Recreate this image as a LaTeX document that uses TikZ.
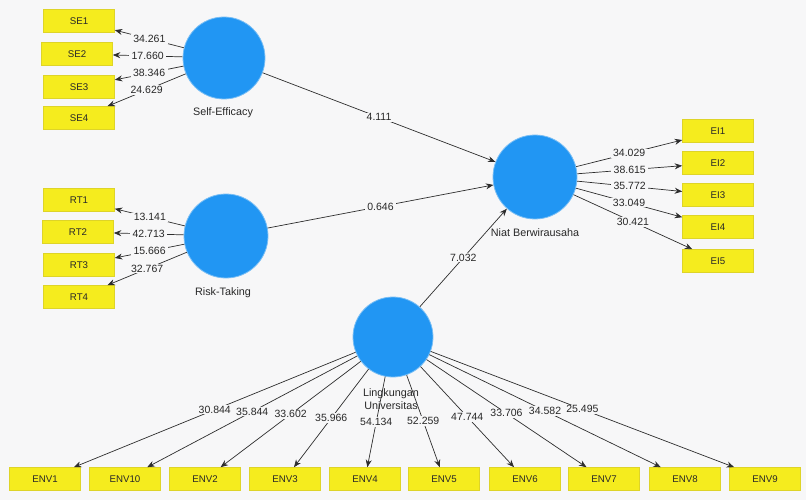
\documentclass[tikz,border=0pt]{standalone}
\usepackage{fontspec}
\setmainfont{Liberation Sans}
\usetikzlibrary{arrows.meta}
\definecolor{bgcol}{RGB}{247,247,248}
\definecolor{latentfill}{RGB}{33,150,243}
\definecolor{latentedge}{RGB}{120,190,245}
\definecolor{itemfill}{RGB}{245,236,30}
\definecolor{itemedge}{RGB}{222,212,40}
\definecolor{linkcol}{RGB}{45,45,45}
\definecolor{txtcol}{RGB}{40,40,40}
\tikzset{
  latent/.style={circle, fill=latentfill, draw=latentedge, line width=0.8pt, minimum size=#1, inner sep=0pt},
  latent/.default=82pt,
  item/.style={rectangle, fill=itemfill, draw=itemedge, line width=0.6pt, minimum width=71pt, minimum height=23pt, inner sep=0pt, font=\fontsize{9.7}{11}\selectfont, text=txtcol},
  cname/.style={font=\fontsize{10.8}{12.5}\selectfont, text=txtcol, align=center},
  link/.style={draw=linkcol, line width=0.7pt, -{Stealth[length=7.5pt,width=6pt]}},
  coef/.style={fill=bgcol, inner xsep=2.5pt, inner ysep=1pt, font=\fontsize{10.5}{12}\selectfont, text=txtcol},
}
\begin{document}
\begin{tikzpicture}[x=1pt, y=-1pt]
  % canvas
  \fill[bgcol] (0,0) rectangle (806,500);
  \useasboundingbox (0,0) rectangle (806,500);

  % latent variables
  \node[latent] (se) at (224,58) {};
  \node[latent=84pt] (rt) at (226,236) {};
  \node[latent=84pt] (nb) at (535,177) {};
  \node[latent=80pt] (lu) at (393,337) {};

  \node[cname] (seL) at (223,113) {Self-Efficacy};
  \node[cname] (rtL) at (223,293) {Risk-Taking};
  \node[cname] (nbL) at (535,233) {Niat Berwirausaha};
  \node[cname] (luL) at (391,399) {Lingkungan\\Universitas};

  % indicators
  \node[item] (se1) at (79,21)  {SE1};
  \node[item] (se2) at (77,54)  {SE2};
  \node[item] (se3) at (79,87)  {SE3};
  \node[item] (se4) at (79,118) {SE4};

  \node[item] (rt1) at (79,200) {RT1};
  \node[item] (rt2) at (78,232) {RT2};
  \node[item] (rt3) at (79,265) {RT3};
  \node[item] (rt4) at (79,297) {RT4};

  \node[item] (ei1) at (718,131) {EI1};
  \node[item] (ei2) at (718,163) {EI2};
  \node[item] (ei3) at (718,195) {EI3};
  \node[item] (ei4) at (718,227) {EI4};
  \node[item] (ei5) at (718,261) {EI5};

  \node[item] (env1)  at (45,479)  {ENV1};
  \node[item] (env10) at (125,479) {ENV10};
  \node[item] (env2)  at (205,479) {ENV2};
  \node[item] (env3)  at (285,479) {ENV3};
  \node[item] (env4)  at (365,479) {ENV4};
  \node[item] (env5)  at (444,479) {ENV5};
  \node[item] (env6)  at (525,479) {ENV6};
  \node[item] (env7)  at (604,479) {ENV7};
  \node[item] (env8)  at (685,479) {ENV8};
  \node[item] (env9)  at (765,479) {ENV9};

  % structural paths
  \draw[link] (se) -- node[coef] {4.111} (nb);
  \draw[link] (rt) -- node[coef] {0.646} (nb);
  \draw[link] (lu) -- node[coef] {7.032} (nb);

  % outer loadings
  \draw[link] (se) -- node[coef] {34.261} (se1);
  \draw[link] (se) -- node[coef] {17.660} (se2);
  \draw[link] (se) -- node[coef] {38.346} (se3);
  \draw[link] (se) -- node[coef] {24.629} (se4);

  \draw[link] (rt) -- node[coef] {13.141} (rt1);
  \draw[link] (rt) -- node[coef] {42.713} (rt2);
  \draw[link] (rt) -- node[coef] {15.666} (rt3);
  \draw[link] (rt) -- node[coef] {32.767} (rt4);

  \draw[link] (nb) -- node[coef] {34.029} (ei1);
  \draw[link] (nb) -- node[coef] {38.615} (ei2);
  \draw[link] (nb) -- node[coef] {35.772} (ei3);
  \draw[link] (nb) -- node[coef] {33.049} (ei4);
  \draw[link] (nb) -- node[coef] {30.421} (ei5);

  \draw[link] (lu) -- node[coef] {30.844} (env1);
  \draw[link] (lu) -- node[coef] {35.844} (env10);
  \draw[link] (lu) -- node[coef] {33.602} (env2);
  \draw[link] (lu) -- node[coef] {35.966} (env3);
  \draw[link] (lu) -- node[coef] {54.134} (env4);
  \draw[link] (lu) -- node[coef] {52.259} (env5);
  \draw[link] (lu) -- node[coef] {47.744} (env6);
  \draw[link] (lu) -- node[coef] {33.706} (env7);
  \draw[link] (lu) -- node[coef] {34.582} (env8);
  \draw[link] (lu) -- node[coef] {25.495} (env9);
\end{tikzpicture}
\end{document}
